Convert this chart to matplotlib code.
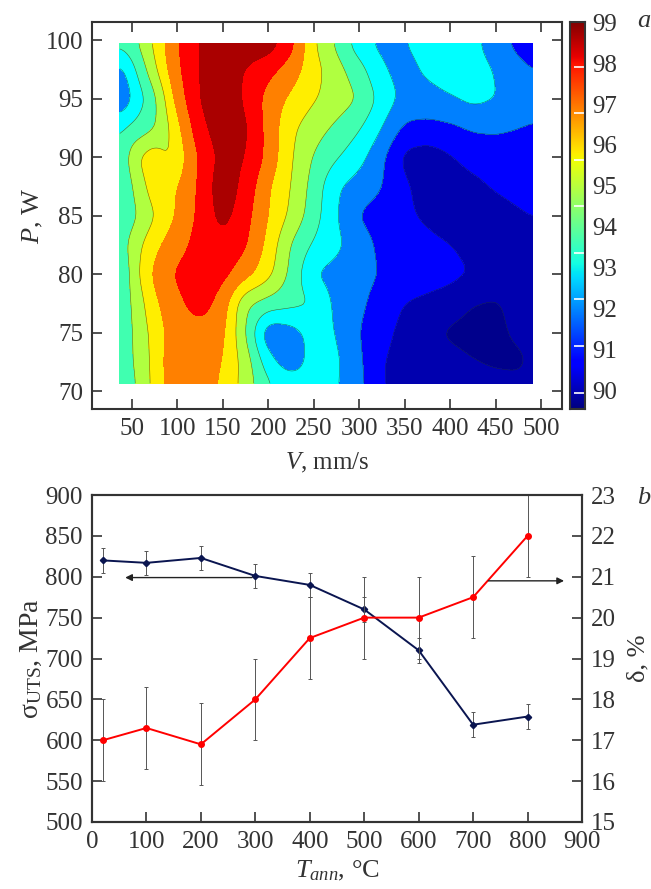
import numpy as np
import matplotlib
matplotlib.use("Agg")
import matplotlib.pyplot as plt

plt.rcParams['font.family'] = ['Liberation Serif', 'DejaVu Serif']
plt.rcParams['mathtext.fontset'] = 'custom'
plt.rcParams['mathtext.rm'] = 'Liberation Serif'
plt.rcParams['mathtext.it'] = 'Liberation Serif:italic'
plt.rcParams['mathtext.default'] = 'rm'

TXT = '#333333'
FS = 18

scan_speed = [37, 50, 75, 90, 100, 125, 150, 175, 200, 225, 250, 275, 300, 325, 350, 375, 400, 425, 450, 475, 491]
laser_power = [70.7, 72.5, 75, 77.5, 80, 82.5, 85, 87.5, 90, 92.5, 95, 97.5, 99.7]
band_position = [
 [5.2, 5.7, 7.3, 8.3, 8.5, 8.6, 7.8, 6.6, 5.1, 4.7, 4.5, 4.1, 3.3, 2.0, 1.8, 1.7, 1.6, 1.5, 1.4, 1.3, 1.3],
 [5.3, 5.9, 7.3, 8.4, 8.6, 8.7, 8.0, 6.6, 4.4, 3.2, 4.5, 4.2, 3.2, 2.0, 1.7, 1.6, 1.4, 1.05, 0.8, 0.75, 1.2],
 [5.4, 5.9, 7.4, 8.2, 8.4, 8.6, 8.3, 6.0, 3.1, 3.5, 4.4, 4.0, 3.0, 2.3, 1.7, 1.25, 0.8, 0.6, 0.75, 1.2, 1.4],
 [5.3, 6.0, 7.8, 8.4, 8.75, 9.5, 8.55, 6.1, 5.6, 5.3, 5.05, 3.7, 3.2, 2.6, 1.95, 1.75, 1.55, 1.0, 0.85, 1.4, 1.6],
 [4.7, 6.4, 8.3, 8.8, 9.2, 9.6, 9.3, 8.4, 7.35, 5.75, 3.95, 3.6, 3.3, 2.95, 2.7, 2.45, 2.25, 2.0, 1.7, 1.5, 1.4],
 [5.4, 6.4, 7.75, 8.3, 8.6, 9.4, 9.7, 9.15, 7.7, 5.9, 4.85, 4.25, 3.5, 2.75, 2.55, 2.3, 2.05, 1.7, 1.5, 1.4, 1.35],
 [5.2, 5.65, 6.95, 7.65, 8.1, 9.25, 10.4, 9.35, 8.0, 6.8, 5.45, 4.05, 2.9, 2.55, 2.2, 1.8, 1.4, 1.3, 1.4, 1.8, 2.05],
 [4.7, 6.0, 7.6, 7.9, 7.9, 9.2, 10.7, 9.65, 8.1, 7.0, 5.6, 4.1, 3.55, 3.05, 2.15, 1.6, 1.4, 1.7, 2.15, 2.5, 2.6],
 [4.9, 6.7, 7.8, 6.7, 7.35, 9.15, 10.35, 10.05, 8.7, 7.1, 5.9, 5.1, 4.35, 3.2, 1.7, 1.45, 1.9, 2.4, 2.5, 2.5, 2.5],
 [4.9, 5.2, 5.85, 6.85, 7.7, 9.7, 10.6, 10.2, 8.65, 7.2, 6.45, 5.8, 5.1, 4.0, 2.8, 2.7, 2.8, 3.1, 3.15, 3.0, 2.9],
 [2.9, 4.0, 5.67, 7.4, 8.4, 10.1, 10.7, 9.85, 8.6, 7.8, 7.1, 6.55, 6.0, 4.65, 3.7, 3.6, 3.9, 4.3, 4.05, 3.6, 3.4],
 [3.6, 4.6, 6.8, 8.1, 8.8, 10.1, 10.5, 9.95, 9.3, 8.5, 7.4, 6.4, 5.4, 4.1, 3.6, 4.2, 4.6, 4.5, 3.95, 3.3, 3.0],
 [5.3, 5.6, 7.2, 8.3, 8.95, 10.1, 10.6, 10.6, 10.6, 9.4, 7.1, 5.8, 4.4, 3.7, 3.95, 4.5, 5.0, 4.3, 3.4, 2.7, 2.4],
]
band_colors = ['#00008c', '#0000af', '#0000ff', '#0080ff', '#00ffff', '#40ffb0',
               '#b0ff40', '#ffee00', '#ff8000', '#ff0000', '#aa0000']
band_edges = [-1, 1, 2, 3, 4, 5, 6, 7, 8, 9, 10, 12]
v_ticks = [50, 100, 150, 200, 250, 300, 350, 400, 450, 500]
p_ticks = [70, 75, 80, 85, 90, 95, 100]
cbar_labels = [90, 91, 92, 93, 94, 95, 96, 97, 98, 99]
cbar_marks = [90.0, 91.14, 92.28, 93.42, 94.56, 95.7, 96.84, 97.98]

# --- panel b: annealing series
t_ann = [20, 100, 200, 300, 400, 500, 600, 700, 800]
uts = [820, 817, 823, 801, 790, 760, 710, 619, 629]
uts_err = [15, 15, 15, 15, 15, 15, 15, 15, 15]
elong = [17.0, 17.3, 16.9, 18.0, 19.5, 20.0, 20.0, 20.5, 22.0]
elong_err = [1, 1, 1, 1, 1, 1, 1, 1, 1]
t_ticks = [0, 100, 200, 300, 400, 500, 600, 700, 800, 900]
uts_ticks = [500, 550, 600, 650, 700, 750, 800, 850, 900]
elong_ticks = [15, 16, 17, 18, 19, 20, 21, 22, 23]

W, H = 651, 889
fig = plt.figure(figsize=(W / 100, H / 100), dpi=100)


def box(l, t, r, b):
    return [l / W, 1 - b / H, (r - l) / W, (b - t) / H]


def style(ax):
    for s in ax.spines.values():
        s.set_linewidth(1.5)
        s.set_color(TXT)


def smooth_surface(x, y, z, nx=181, ny=117, width=5, passes=3):
    """Resample the read grid finely and round it, so the filled bands have soft outlines."""
    fx, fy = np.linspace(x[0], x[-1], nx), np.linspace(y[0], y[-1], ny)
    rows = np.array([np.interp(fx, x, r) for r in z])
    fine = np.array([np.interp(fy, y, c) for c in rows.T]).T
    k = np.ones(width) / width
    pad = width // 2
    for _ in range(passes):
        fine = np.pad(fine, ((0, 0), (pad, pad)), mode='edge')
        fine = np.apply_along_axis(lambda a: np.convolve(a, k, mode='valid'), 1, fine)
        fine = np.pad(fine, ((pad, pad), (0, 0)), mode='edge')
        fine = np.apply_along_axis(lambda a: np.convolve(a, k, mode='valid'), 0, fine)
    return fx, fy, fine


# panel a
ax = fig.add_axes(box(92, 22, 562, 409))
style(ax)
fx, fy, fz = smooth_surface(scan_speed, laser_power, np.array(band_position))
Z = 89.6 + 0.9 * fz
levels = [89.6 + 0.9 * e for e in band_edges]
ax.contourf(fx, fy, Z, levels=levels, colors=band_colors)
ax.contour(fx, fy, Z, levels=levels[1:8], colors='#203020', linewidths=0.4, alpha=0.7)
ax.set_xlim(6.3, 523)
ax.set_ylim(68.5, 101.56)
ax.set_xticks(v_ticks)
ax.set_yticks(p_ticks)
ax.tick_params(direction='in', length=7.5, width=1.2, color=TXT, top=True, right=True,
               labelsize=FS, labelcolor=TXT, pad=6.5)
ax.set_xlabel(r'$\mathit{V}$, mm/s', fontsize=FS, color=TXT, labelpad=8)
ax.set_ylabel(r'$\mathit{P}$, W', fontsize=FS + 1, color=TXT, labelpad=0)

# colour bar
cax = fig.add_axes(box(570, 22, 585, 409))
style(cax)
grad = np.linspace(0, 1, 256)[:, None]
cax.imshow(grad, aspect='auto', cmap='jet', origin='lower', extent=[0, 1, 89.6, 99.07])
cax.set_xticks([])
cax.yaxis.tick_right()
cax.set_yticks(cbar_marks)
cax.set_yticklabels([])
cax.tick_params(axis='y', direction='in', length=8, width=1.2, color='white')
for v in cbar_labels:
    cax.annotate(str(v), xy=(1, v), xycoords=('axes fraction', 'data'), xytext=(5, 0),
                 textcoords='offset points', va='center', ha='left', fontsize=FS, color=TXT,
                 annotation_clip=False)
fig.text(644 / W, 1 - 21 / H, 'a', style='italic', fontsize=FS + 1, color=TXT, ha='center', va='center')

# panel b
ax1 = fig.add_axes(box(92, 495, 582, 822))
ax2 = ax1.twinx()
style(ax1)
style(ax2)
ax1.set_xlim(0, 900)
ax1.set_ylim(500, 900)
ax2.set_ylim(15, 23)
ax1.set_xticks(t_ticks)
ax1.set_yticks(uts_ticks)
ax2.set_yticks(elong_ticks)
for a in (ax1, ax2):
    a.tick_params(direction='in', length=7.5, width=1.2, color=TXT, labelsize=FS, labelcolor=TXT, pad=6.5)
ax1.errorbar(t_ann, uts, yerr=uts_err, color='#0a1550', lw=1.4, marker='D', ms=3.2,
             ecolor='#555555', elinewidth=0.7, capsize=1.3, capthick=0.7, clip_on=True)
ax2.errorbar(t_ann, elong, yerr=elong_err, color='#ff0000', lw=1.4, marker='o', ms=4,
             ecolor='#555555', elinewidth=0.7, capsize=1.3, capthick=0.7, clip_on=True)
ax1.annotate('', xy=(61, 799), xytext=(294, 799),
             arrowprops=dict(arrowstyle='-|>', color='#222222', lw=1, mutation_scale=10, shrinkA=0, shrinkB=0))
ax2.annotate('', xy=(867, 20.9), xytext=(728, 20.9),
             arrowprops=dict(arrowstyle='-|>', color='#222222', lw=1, mutation_scale=10, shrinkA=0, shrinkB=0))
ax1.set_xlabel(r'$\mathit{T}_{\mathit{ann}}$, °C', fontsize=FS + 1, color=TXT, labelpad=4)
ax1.set_ylabel(r'σ$_{\mathrm{UTS}}$, MPa', fontsize=FS + 2, color=TXT, labelpad=1)
ax2.set_ylabel('δ, %', fontsize=FS + 1, color=TXT, labelpad=8)
fig.text(644 / W, 1 - 498 / H, 'b', style='italic', fontsize=FS + 1, color=TXT, ha='center', va='center')

fig.savefig('out.png', dpi=100, facecolor='white')
